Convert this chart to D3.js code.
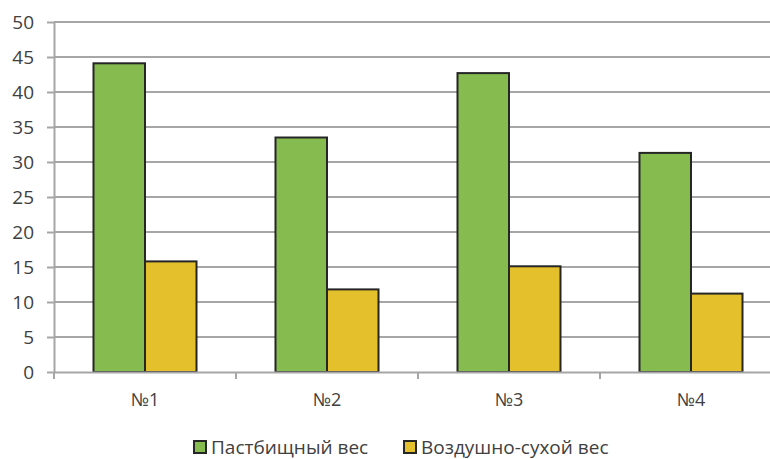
<!DOCTYPE html>
<html>
<head>
<meta charset="utf-8">
<script src="https://cdn.jsdelivr.net/npm/d3@7"></script>
<style>
  html, body { margin: 0; padding: 0; background: #fff; }
  svg { display: block; }
  text { font-family: "Open Sans", "Liberation Sans", sans-serif; fill: #404040; }
</style>
</head>
<body>
<svg id="chart" width="770" height="459"></svg>
<script>
// Chart data
const categories = ["№1", "№2", "№3", "№4"];
const seriesNames = ["Пастбищный вес", "Воздушно-сухой вес"];
const pastureWeight = [44.1, 33.5, 42.7, 31.3];
const airDryWeight = [15.8, 11.8, 15.1, 11.2];
const yTicks = [0, 5, 10, 15, 20, 25, 30, 35, 40, 45, 50];
const seriesColors = ["#86bb50", "#e4c02c"];

const seriesValues = [pastureWeight, airDryWeight];
const rows = categories.map((c, i) => ({
  category: c,
  values: seriesNames.map((s, k) => ({ series: s, value: seriesValues[k][i], k }))
}));

const svg = d3.select("#chart");
const margin = { left: 54, top: 22, bottom: 87 };
const plotRight = 782;
const H = 459;

const y = d3.scaleLinear().domain([0, 50]).range([H - margin.bottom, margin.top]);
const x0 = d3.scaleBand().domain(categories).range([margin.left, plotRight]).padding(0);
const bw = x0.bandwidth();
const x1 = d3.scaleBand().domain(seriesNames).range([bw * 0.217, bw * 0.783]).padding(0);

// Horizontal gridlines
svg.append("g")
  .selectAll("line")
  .data(yTicks.filter(t => t > 0))
  .join("line")
  .attr("x1", margin.left)
  .attr("x2", plotRight)
  .attr("y1", d => y(d))
  .attr("y2", d => y(d))
  .attr("stroke", "#a6a6a6")
  .attr("stroke-width", 2);

// Y axis
const yAxis = svg.append("g")
  .attr("transform", `translate(${margin.left},0)`)
  .call(d3.axisLeft(y).tickValues(yTicks).tickSize(7).tickPadding(13).tickSizeOuter(0));
yAxis.select(".domain").attr("stroke", "#a6a6a6").attr("stroke-width", 2);
yAxis.selectAll(".tick line").attr("stroke", "#a6a6a6").attr("stroke-width", 2);
yAxis.selectAll(".tick text")
  .attr("font-size", 19)
  .attr("font-family", "Open Sans, Liberation Sans, sans-serif")
  .attr("fill", "#404040");

// Bars
const groups = svg.append("g")
  .selectAll("g")
  .data(rows)
  .join("g")
  .attr("transform", d => `translate(${x0(d.category)},0)`);

groups.selectAll("rect")
  .data(d => d.values)
  .join("rect")
  .attr("x", d => x1(d.series))
  .attr("width", x1.bandwidth())
  .attr("y", d => y(d.value))
  .attr("height", d => y(0) - y(d.value))
  .attr("fill", d => seriesColors[d.k])
  .attr("stroke", "#262626")
  .attr("stroke-width", 2);

// X axis
const xAxis = svg.append("g")
  .attr("transform", `translate(0,${y(0)})`)
  .call(d3.axisBottom(x0).tickSize(0).tickPadding(21).tickSizeOuter(0));
xAxis.select(".domain").attr("stroke", "#a6a6a6").attr("stroke-width", 2);
xAxis.selectAll(".tick text")
  .attr("font-size", 18)
  .attr("font-family", "Open Sans, Liberation Sans, sans-serif")
  .attr("fill", "#404040");

// Category boundary ticks
svg.append("g")
  .selectAll("line")
  .data(categories)
  .join("line")
  .attr("x1", d => x0(d))
  .attr("x2", d => x0(d))
  .attr("y1", y(0))
  .attr("y2", y(0) + 7)
  .attr("stroke", "#a6a6a6")
  .attr("stroke-width", 2);

// Legend
const legendX = [194, 404];
const legend = svg.append("g")
  .selectAll("g")
  .data(seriesNames)
  .join("g")
  .attr("transform", (d, i) => `translate(${legendX[i]},441)`);
legend.append("rect")
  .attr("width", 12)
  .attr("height", 12)
  .attr("fill", (d, i) => seriesColors[i])
  .attr("stroke", "#262626")
  .attr("stroke-width", 2);
legend.append("text")
  .attr("x", 17)
  .attr("y", 13)
  .attr("font-size", 19)
  .text(d => d);
</script>
</body>
</html>
